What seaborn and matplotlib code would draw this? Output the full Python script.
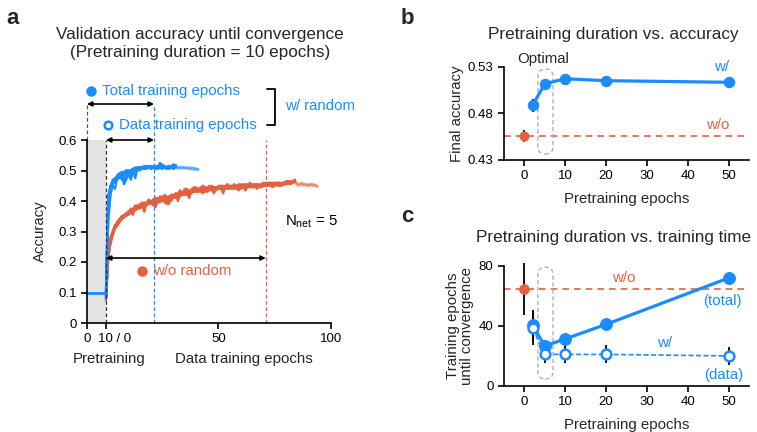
import matplotlib
matplotlib.use("Agg")
import matplotlib.pyplot as plt
import matplotlib.transforms as mtransforms
from matplotlib.patches import FancyBboxPatch
import pandas as pd
import seaborn as sns

BLUE = "#1a8cff"
RED = "#e5603f"

# ---------------- panel a: validation accuracy curves ----------------
pre_epochs = [0, 1, 2, 3, 4, 5, 6, 7, 8, 9, 10]
pre_acc = [0.1, 0.1, 0.1, 0.1, 0.1, 0.1, 0.1, 0.1, 0.1, 0.1, 0.1]

blue_runs = [
    [0.10, 0.40, 0.45, 0.46, 0.47, 0.48, 0.49, 0.47, 0.49, 0.50, 0.49, 0.50, 0.505, 0.475, 0.51, 0.505,
     0.51, 0.512, 0.508, 0.51, 0.515, 0.51, 0.507, 0.512, 0.52, 0.51, 0.508, 0.513, 0.51, 0.515, 0.51,
     0.518, 0.51, 0.505, 0.512, 0.508, 0.51, 0.505, 0.51, 0.507, 0.503, 0.505],
    [0.09, 0.36, 0.43, 0.45, 0.44, 0.475, 0.48, 0.49, 0.46, 0.49, 0.495, 0.50, 0.49, 0.505, 0.51, 0.50,
     0.512, 0.51, 0.505, 0.515, 0.51, 0.508, 0.512, 0.505, 0.51, 0.515, 0.51, 0.505, 0.51, 0.508, 0.512,
     0.515, 0.505, 0.51, 0.507, 0.512, 0.505, 0.51, 0.502, 0.508, 0.505, 0.50],
    [0.08, 0.42, 0.44, 0.47, 0.46, 0.485, 0.49, 0.495, 0.455, 0.47, 0.50, 0.495, 0.505, 0.51, 0.50, 0.51,
     0.505, 0.515, 0.51, 0.512, 0.505, 0.51, 0.515, 0.51, 0.525, 0.51, 0.512, 0.508, 0.515, 0.51, 0.505,
     0.512, 0.508, 0.51, 0.512, 0.505, 0.508, 0.51, 0.506, 0.50, 0.508, 0.504],
    [0.09, 0.33, 0.42, 0.455, 0.47, 0.47, 0.48, 0.49, 0.495, 0.49, 0.48, 0.50, 0.505, 0.50, 0.505, 0.51,
     0.51, 0.505, 0.512, 0.51, 0.508, 0.515, 0.51, 0.512, 0.51, 0.505, 0.515, 0.51, 0.507, 0.512, 0.52,
     0.51, 0.512, 0.508, 0.505, 0.51, 0.512, 0.507, 0.51, 0.505, 0.502, 0.506],
    [0.10, 0.41, 0.45, 0.465, 0.475, 0.48, 0.475, 0.49, 0.495, 0.50, 0.50, 0.47, 0.50, 0.505, 0.51, 0.508,
     0.505, 0.51, 0.515, 0.508, 0.512, 0.51, 0.505, 0.515, 0.51, 0.52, 0.51, 0.512, 0.505, 0.51, 0.515,
     0.51, 0.508, 0.512, 0.51, 0.506, 0.51, 0.504, 0.508, 0.51, 0.505, 0.502],
]

red_runs = [
    [0.08, 0.24, 0.28, 0.30, 0.32, 0.33, 0.34, 0.35, 0.345, 0.36,
     0.365, 0.37, 0.355, 0.38, 0.375, 0.385, 0.39, 0.365, 0.395, 0.40,
     0.40, 0.385, 0.41, 0.40, 0.415, 0.40, 0.42, 0.41, 0.39, 0.42,
     0.415, 0.425, 0.40, 0.43, 0.42, 0.435, 0.425, 0.41, 0.44, 0.43,
     0.44, 0.43, 0.445, 0.425, 0.445, 0.43, 0.44, 0.45, 0.44, 0.445,
     0.44, 0.45, 0.425, 0.445, 0.455, 0.44, 0.445, 0.455, 0.445, 0.435,
     0.45, 0.445, 0.45, 0.455, 0.445, 0.45, 0.455, 0.45, 0.445, 0.455,
     0.45, 0.455, 0.46, 0.45, 0.455, 0.45, 0.46, 0.455, 0.45, 0.46,
     0.455, 0.46, 0.465, 0.46, 0.465, 0.455, 0.45, 0.46, 0.452, 0.455,
     0.45, 0.458, 0.452, 0.448, 0.45],
    [0.075, 0.22, 0.26, 0.29, 0.31, 0.32, 0.335, 0.34, 0.35, 0.355,
     0.36, 0.36, 0.375, 0.37, 0.38, 0.38, 0.38, 0.39, 0.385, 0.395,
     0.39, 0.40, 0.385, 0.405, 0.40, 0.41, 0.395, 0.41, 0.415, 0.40,
     0.42, 0.41, 0.42, 0.415, 0.425, 0.42, 0.43, 0.43, 0.425, 0.435,
     0.43, 0.435, 0.43, 0.44, 0.43, 0.44, 0.435, 0.44, 0.445, 0.44,
     0.445, 0.44, 0.45, 0.44, 0.445, 0.44, 0.45, 0.445, 0.45, 0.445,
     0.44, 0.45, 0.455, 0.445, 0.45, 0.455, 0.445, 0.45, 0.455, 0.45,
     0.455, 0.45, 0.455, 0.46, 0.45, 0.455, 0.45, 0.46, 0.455, 0.46,
     0.46, 0.455, 0.46, 0.465, 0.468, 0.45, 0.455, 0.458, 0.45, 0.452,
     0.455, 0.45, 0.455, 0.45, 0.445],
    [0.085, 0.25, 0.27, 0.30, 0.315, 0.32, 0.33, 0.345, 0.355, 0.35,
     0.36, 0.375, 0.37, 0.385, 0.385, 0.375, 0.395, 0.37, 0.39, 0.405,
     0.395, 0.405, 0.38, 0.40, 0.41, 0.415, 0.405, 0.39, 0.41, 0.42,
     0.41, 0.425, 0.42, 0.42, 0.43, 0.425, 0.43, 0.435, 0.43, 0.43,
     0.445, 0.435, 0.435, 0.45, 0.445, 0.435, 0.45, 0.44, 0.425, 0.445,
     0.445, 0.44, 0.445, 0.45, 0.44, 0.45, 0.445, 0.44, 0.45, 0.45,
     0.445, 0.455, 0.45, 0.445, 0.455, 0.45, 0.45, 0.455, 0.445, 0.455,
     0.46, 0.45, 0.45, 0.455, 0.46, 0.455, 0.455, 0.45, 0.46, 0.455,
     0.465, 0.46, 0.46, 0.465, 0.462, 0.458, 0.452, 0.455, 0.458, 0.45,
     0.452, 0.455, 0.448, 0.452, 0.447],
    [0.08, 0.21, 0.265, 0.29, 0.31, 0.33, 0.34, 0.34, 0.35, 0.36,
     0.355, 0.365, 0.37, 0.37, 0.375, 0.39, 0.385, 0.39, 0.395, 0.39,
     0.40, 0.40, 0.405, 0.395, 0.41, 0.405, 0.41, 0.40, 0.415, 0.41,
     0.415, 0.42, 0.425, 0.42, 0.42, 0.44, 0.42, 0.43, 0.43, 0.445,
     0.435, 0.44, 0.44, 0.435, 0.44, 0.445, 0.44, 0.435, 0.445, 0.44,
     0.44, 0.45, 0.44, 0.445, 0.445, 0.45, 0.44, 0.45, 0.445, 0.45,
     0.455, 0.445, 0.435, 0.45, 0.46, 0.445, 0.455, 0.44, 0.45, 0.45,
     0.455, 0.46, 0.45, 0.455, 0.445, 0.46, 0.455, 0.46, 0.45, 0.455,
     0.46, 0.465, 0.455, 0.46, 0.465, 0.455, 0.46, 0.45, 0.455, 0.458,
     0.45, 0.452, 0.457, 0.45, 0.448],
    [0.09, 0.23, 0.275, 0.295, 0.32, 0.325, 0.335, 0.35, 0.35, 0.355,
     0.365, 0.36, 0.37, 0.38, 0.375, 0.38, 0.385, 0.395, 0.39, 0.395,
     0.395, 0.405, 0.40, 0.41, 0.395, 0.41, 0.41, 0.415, 0.41, 0.42,
     0.42, 0.41, 0.425, 0.435, 0.42, 0.425, 0.44, 0.425, 0.43, 0.44,
     0.43, 0.44, 0.43, 0.445, 0.435, 0.44, 0.44, 0.445, 0.44, 0.435,
     0.45, 0.445, 0.44, 0.44, 0.45, 0.445, 0.45, 0.445, 0.44, 0.455,
     0.45, 0.45, 0.445, 0.455, 0.45, 0.445, 0.45, 0.455, 0.45, 0.445,
     0.45, 0.455, 0.455, 0.46, 0.455, 0.45, 0.46, 0.45, 0.46, 0.455,
     0.455, 0.465, 0.46, 0.462, 0.47, 0.45, 0.455, 0.46, 0.452, 0.455,
     0.448, 0.455, 0.45, 0.455, 0.45],
]

blue_stop = 31          # last data epoch drawn solid (w/ random)
red_stop = 84           # last data epoch drawn solid (w/o random)
conv_w_data = 21.3      # convergence, w/ random, in data epochs
conv_wo_data = 71       # convergence, w/o random, in data epochs

# ---------------- panels b, c ----------------
pre_durations = [2, 5, 10, 20, 50]
acc_w = [0.4886, 0.5118, 0.5171, 0.515, 0.5133]
acc_w_err = [0.007, 0.002, 0.002, 0.002, 0.002]
acc_wo = 0.4557
acc_wo_err = 0.006

total_w = [40.4, 26.6, 31.3, 41.0, 71.8]
total_w_err = [10, 3, 3, 3, 3]
data_w = [38.4, 21.1, 21.0, 21.0, 20.0]
data_w_err = [11, 6, 6, 6, 6]
conv_wo = 64.5
conv_wo_err = 17

sns.set_style("ticks")
plt.rcParams["font.family"] = ["Liberation Sans", "DejaVu Sans"]
plt.rcParams["mathtext.fontset"] = "custom"
plt.rcParams["mathtext.rm"] = "Liberation Sans"
plt.rcParams["mathtext.it"] = "Liberation Sans:italic"

FS_TICK = 9.5
FS_LAB = 10.8
FS_TITLE = 12.3
W, H = 757, 432


def box(l, t, r, b):
    return [l / W, 1 - b / H, (r - l) / W, (b - t) / H]


fig = plt.figure(figsize=(7.57, 4.32), dpi=100)
ax_a = fig.add_axes(box(87, 140, 331, 323))
ax_b = fig.add_axes(box(504, 66.7, 749, 160))
ax_c = fig.add_axes(box(504, 265.7, 749, 386))

for ax in (ax_a, ax_b, ax_c):
    sns.despine(ax=ax)
    for s in ("left", "bottom"):
        ax.spines[s].set_linewidth(1.2)
        ax.spines[s].set_color("black")
    ax.tick_params(direction="out", length=4, width=1.2, labelsize=FS_TICK, colors="black")

# ---------------- panel a ----------------
PRE_W = 8.44  # width of the pretraining block in data-epoch units
rows = []
for i, run in enumerate(blue_runs):
    for e, v in enumerate(run):
        rows.append(("w/", i, e, v))
for i, run in enumerate(red_runs):
    for e, v in enumerate(run):
        rows.append(("w/o", i, e, v))
curves = pd.DataFrame(rows, columns=["group", "run", "epoch", "acc"])

ax_a.axvspan(-PRE_W, 0, ymin=0, ymax=1, color="#e3e3e3", lw=0, zorder=0)

pre_x = [(p - 10) * PRE_W / 10 for p in pre_epochs]
sns.lineplot(x=pre_x, y=pre_acc, color=BLUE, lw=2, ax=ax_a, legend=False)

for grp, col, stop in (("w/o", RED, red_stop), ("w/", BLUE, blue_stop)):
    d = curves[curves.group == grp]
    sns.lineplot(data=d[d.epoch >= stop], x="epoch", y="acc", units="run", estimator=None,
                 color=col, alpha=0.25, lw=1.7, ax=ax_a, legend=False)
    sns.lineplot(data=d[d.epoch <= stop], x="epoch", y="acc", units="run", estimator=None,
                 color=col, lw=1.7, ax=ax_a, legend=False)

ax_a.set_xlim(-PRE_W, 100)
ax_a.set_ylim(0, 0.6)
ax_a.set_xticks([-PRE_W, 0, 50, 100])
ax_a.set_xticklabels(["0", "10 / 0", "50", "100"])
shift = mtransforms.ScaledTranslation(8.5 / 100, 0, fig.dpi_scale_trans)
lbl = ax_a.get_xticklabels()[1]
lbl.set_transform(lbl.get_transform() + shift)
ax_a.set_yticks([0, 0.1, 0.2, 0.3, 0.4, 0.5, 0.6])
ax_a.set_yticklabels(["0", "0.1", "0.2", "0.3", "0.4", "0.5", "0.6"])
ax_a.set_xlabel("")
ax_a.set_ylabel("Accuracy", fontsize=FS_LAB)
ax_a.yaxis.set_label_coords(-0.164, 0.5)

y_top = 0.718
dash = (0, (3, 2))
ax_a.plot([-PRE_W, -PRE_W], [0.6, y_top], color="#555555", ls=dash, lw=0.9, clip_on=False)
ax_a.plot([0, 0], [0, 0.6], color="#333333", ls=dash, lw=0.9, clip_on=False)
ax_a.plot([conv_w_data, conv_w_data], [0, y_top], color=BLUE, ls=dash, lw=0.9, clip_on=False)
ax_a.plot([conv_wo_data, conv_wo_data], [0, 0.6], color=RED, ls=dash, lw=0.9, clip_on=False)

arrow = dict(arrowstyle="<|-|>", color="black", lw=1.2, mutation_scale=7, shrinkA=0, shrinkB=0)
ax_a.annotate("", xy=(conv_w_data, y_top), xytext=(-PRE_W, y_top), arrowprops=arrow, annotation_clip=False)
ax_a.annotate("", xy=(conv_w_data, 0.6), xytext=(0, 0.6), arrowprops=arrow, annotation_clip=False)
ax_a.annotate("", xy=(conv_wo_data, 0.213), xytext=(0, 0.213), arrowprops=arrow, annotation_clip=False)

ax_a.plot([-6.7], [0.761], "o", color=BLUE, ms=6.5, clip_on=False)
ax_a.text(-1.8, 0.761, "Total training epochs", color=BLUE, fontsize=FS_LAB, va="center")
ax_a.plot([0.9], [0.649], "o", mfc="white", mec=BLUE, mew=1.8, ms=5.5, clip_on=False)
ax_a.text(5.8, 0.649, "Data training epochs", color=BLUE, fontsize=FS_LAB, va="center")
ax_a.plot([71.6, 75.1, 75.1, 71.6], [0.767, 0.767, 0.649, 0.649], color="black", lw=1.3, clip_on=False)
ax_a.text(79.6, 0.711, "w/ random", color=BLUE, fontsize=FS_LAB, va="center")
ax_a.plot([16], [0.1705], "o", color=RED, ms=6.5, clip_on=False)
ax_a.text(20.9, 0.1705, "w/o random", color=RED, fontsize=FS_LAB, va="center")
ax_a.text(79.6, 0.331, r"N$_{\mathrm{net}}$ = 5", color="black", fontsize=FS_LAB, va="center")

trans_a = mtransforms.blended_transform_factory(ax_a.transData, ax_a.transAxes)
ax_a.text(1.3, -0.197, "Pretraining", transform=trans_a, ha="center", va="center", fontsize=FS_LAB)
ax_a.text(61.3, -0.197, "Data training epochs", transform=trans_a, ha="center", va="center", fontsize=FS_LAB)

fig.text(200 / W, 1 - 34 / H, "Validation accuracy until convergence", ha="center", va="center", fontsize=FS_TITLE)
fig.text(200 / W, 1 - 52 / H, "(Pretraining duration = 10 epochs)", ha="center", va="center", fontsize=FS_TITLE)

# ---------------- panel b ----------------
ax_b.axhline(acc_wo, color=RED, ls=(0, (4, 3)), lw=1.2, zorder=1)
ax_b.errorbar(pre_durations, acc_w, yerr=acc_w_err, fmt="none", ecolor="black", elinewidth=1.3, zorder=2)
ax_b.errorbar([0], [acc_wo], yerr=[acc_wo_err], fmt="none", ecolor="black", elinewidth=1.3, zorder=2)
sns.lineplot(x=pre_durations, y=acc_w, color=BLUE, lw=2.3, marker="o", ms=7.5, mec=BLUE, mfc=BLUE,
             ax=ax_b, legend=False, zorder=3)
sns.scatterplot(x=[0], y=[acc_wo], color=RED, s=45, edgecolor=RED, ax=ax_b, legend=False, zorder=3)

ax_b.set_xlim(-5, 55)
ax_b.set_ylim(0.43, 0.53)
ax_b.set_xticks([0, 10, 20, 30, 40, 50])
ax_b.set_yticks([0.43, 0.48, 0.53])
ax_b.set_yticklabels(["0.43", "0.48", "0.53"])
ax_b.set_xlabel("Pretraining epochs", fontsize=FS_LAB)
ax_b.xaxis.set_label_coords(0.5, -0.34)
ax_b.set_ylabel("Final accuracy", fontsize=FS_LAB)
ax_b.yaxis.set_label_coords(-0.163, 0.5)

opt_b = FancyBboxPatch((3.3, 0.4364), 3.7, 0.0911, boxstyle="round,pad=0,rounding_size=1.8",
                       mutation_aspect=0.0044, fc="none", ec="#b0b0b0", ls=(0, (3, 2)), lw=1.0,
                       transform=ax_b.transData, clip_on=False, zorder=1)
ax_b.add_patch(opt_b)
ax_b.text(4.6, 0.538, "Optimal", ha="center", va="center", fontsize=FS_LAB)
ax_b.text(48.3, 0.5297, "w/", color=BLUE, ha="center", va="center", fontsize=FS_LAB)
ax_b.text(47.4, 0.4675, "w/o", color=RED, ha="center", va="center", fontsize=FS_LAB)

fig.text(613 / W, 1 - 34 / H, "Pretraining duration vs. accuracy", ha="center", va="center", fontsize=FS_TITLE)

# ---------------- panel c ----------------
ax_c.axhline(conv_wo, color=RED, ls=(0, (4, 3)), lw=1.2, zorder=1)
ax_c.errorbar(pre_durations, total_w, yerr=total_w_err, fmt="none", ecolor="black", elinewidth=1.3, zorder=2)
ax_c.errorbar(pre_durations, data_w, yerr=data_w_err, fmt="none", ecolor="black", elinewidth=1.3, zorder=2)
eb = ax_c.errorbar([0], [conv_wo], yerr=[conv_wo_err], fmt="none", ecolor="black", elinewidth=1.3, zorder=2)
for art in eb.lines[2]:
    art.set_clip_on(False)
sns.lineplot(x=pre_durations, y=total_w, color=BLUE, lw=2.3, marker="o", ms=8.5, mec=BLUE, mfc=BLUE,
             ax=ax_c, legend=False, zorder=3)
sns.lineplot(x=pre_durations, y=data_w, color=BLUE, lw=1.2, ls=(0, (3, 1.5)), marker="o", ms=7,
             mec=BLUE, mfc="white", mew=1.8, ax=ax_c, legend=False, zorder=4)
sns.scatterplot(x=[0], y=[conv_wo], color=RED, s=50, edgecolor=RED, ax=ax_c, legend=False, zorder=3)

ax_c.set_xlim(-5, 55)
ax_c.set_ylim(0, 80)
ax_c.set_xticks([0, 10, 20, 30, 40, 50])
ax_c.set_yticks([0, 40, 80])
ax_c.set_xlabel("Pretraining epochs", fontsize=FS_LAB)
ax_c.xaxis.set_label_coords(0.5, -0.266)
ax_c.set_ylabel("Training epochs\nuntil convergence", fontsize=FS_LAB, linespacing=1.05)
ax_c.yaxis.set_label_coords(-0.122, 0.5)

opt_c = FancyBboxPatch((3.3, 4.7), 3.7, 74.3, boxstyle="round,pad=0,rounding_size=1.8",
                       mutation_aspect=2.7, fc="none", ec="#b0b0b0", ls=(0, (3, 2)), lw=1.0,
                       transform=ax_c.transData, clip_on=False, zorder=1)
ax_c.add_patch(opt_c)
ax_c.text(24.2, 71.8, "w/o", color=RED, ha="center", va="center", fontsize=FS_LAB)
ax_c.text(48.6, 56.5, "(total)", color=BLUE, ha="center", va="center", fontsize=FS_LAB)
ax_c.text(34.4, 28.6, "w/", color=BLUE, ha="center", va="center", fontsize=FS_LAB)
ax_c.text(48.8, 7.3, "(data)", color=BLUE, ha="center", va="center", fontsize=FS_LAB)

fig.text(614 / W, 1 - 237 / H, "Pretraining duration vs. training time", ha="center", va="center", fontsize=FS_TITLE)

# panel letters
for lab, x, y in (("a", 13, 18), ("b", 407, 18), ("c", 407, 217)):
    fig.text(x / W, 1 - y / H, lab, ha="center", va="center", fontsize=16, fontweight="bold")

fig.savefig("out.png", dpi=100)
